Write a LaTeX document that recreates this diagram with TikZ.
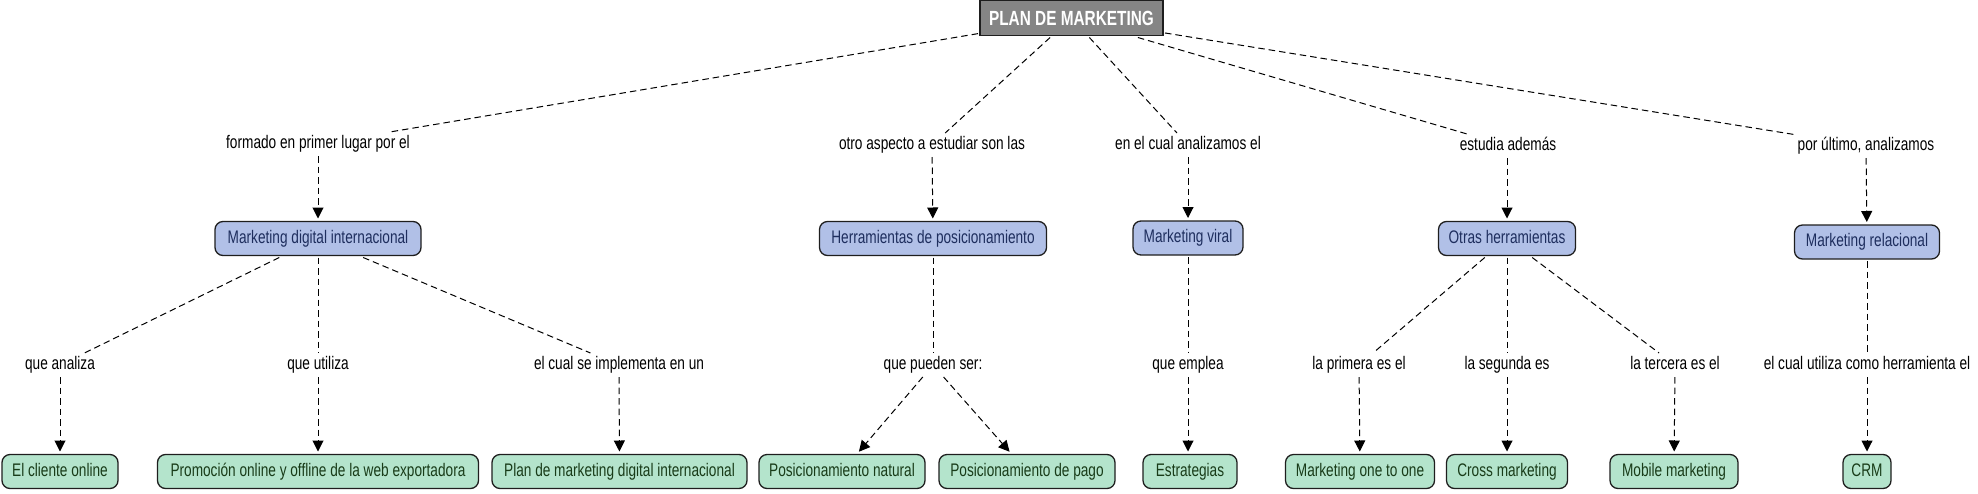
\documentclass[tikz,border=0pt]{standalone}
\usepackage{fontspec}
\setmainfont{Liberation Sans}[FakeStretch=0.75]
\usetikzlibrary{arrows.meta}
\definecolor{bluefill}{RGB}{177,192,231}
\definecolor{bluetext}{RGB}{30,46,94}
\definecolor{greenfill}{RGB}{180,228,204}
\definecolor{greentext}{RGB}{25,60,25}
\definecolor{rootfill}{RGB}{133,133,133}
\definecolor{edgecol}{RGB}{30,30,30}
\begin{document}
\begin{tikzpicture}[x=1pt,y=-1pt,
  txt/.style={font=\fontsize{18.2}{21}\selectfont},
  lbl/.style={txt, inner xsep=3pt, inner ysep=4pt, text height=12.5pt, text depth=3.5pt, outer sep=0pt},
  conc/.style={txt, draw=edgecol, line width=1.3pt, rounded corners=8pt, minimum height=34pt, inner sep=0pt, text height=12.5pt, text depth=3.5pt, outer sep=2pt},
  bconc/.style={conc, fill=bluefill, text=bluetext},
  gconc/.style={conc, fill=greenfill, text=greentext},
  link/.style={draw=black, line width=1pt, dash pattern=on 6.5pt off 4pt},
  arr/.style={link, -{Triangle[length=11pt,width=11pt]}, shorten >=1pt},
]
\useasboundingbox (0,0) rectangle (1978,493);

% root
\node[draw=edgecol, fill=rootfill, line width=1.3pt, minimum width=183pt, minimum height=35pt, inner sep=0pt, outer sep=2pt, text=white, font=\bfseries\fontsize{20.5}{23}\selectfont] (root) at (1071.5,18) {PLAN DE MARKETING};

% first level labels
\node[lbl] (l1) at (318,144) {formado en primer lugar por el};
\node[lbl] (l2) at (932,145) {otro aspecto a estudiar son las};
\node[lbl] (l3) at (1188,145) {en el cual analizamos el};
\node[lbl] (l4) at (1508,146) {estudia además};
\node[lbl] (l5) at (1866,146) {por último, analizamos};

% blue concepts
\node[bconc, minimum width=206pt] (b1) at (318,238.5) {Marketing digital internacional};
\node[bconc, minimum width=227pt] (b2) at (933,238.5) {Herramientas de posicionamiento};
\node[bconc, minimum width=110pt] (b3) at (1188,238) {Marketing viral};
\node[bconc, minimum width=137pt] (b4) at (1507,238.5) {Otras herramientas};
\node[bconc, minimum width=145pt] (b5) at (1867,242) {Marketing relacional};

% second level labels
\node[lbl] (m1) at (60,365) {que analiza};
\node[lbl] (m2) at (318,365) {que utiliza};
\node[lbl] (m3) at (619,365) {el cual se implementa en un};
\node[lbl] (m4) at (933,365) {que pueden ser:};
\node[lbl] (m5) at (1188,365) {que emplea};
\node[lbl] (m6) at (1359,365) {la primera es el};
\node[lbl] (m7) at (1507,365) {la segunda es};
\node[lbl] (m8) at (1675,365) {la tercera es el};
\node[lbl] (m9) at (1867,365) {el cual utiliza como herramienta el};

% green concepts
\node[gconc, minimum width=116pt] (g1) at (60,471.5) {El cliente online};
\node[gconc, minimum width=321pt] (g2) at (318,471.5) {Promoción online y offline de la web exportadora};
\node[gconc, minimum width=255pt] (g3) at (619.5,471.5) {Plan de marketing digital internacional};
\node[gconc, minimum width=166pt] (g4) at (842,471.5) {Posicionamiento natural};
\node[gconc, minimum width=176pt] (g5) at (1027,471.5) {Posicionamiento de pago};
\node[gconc, minimum width=94pt] (g6) at (1190,471.5) {Estrategias};
\node[gconc, minimum width=149pt] (g7) at (1360,471.5) {Marketing one to one};
\node[gconc, minimum width=121pt] (g8) at (1507,471.5) {Cross marketing};
\node[gconc, minimum width=128pt] (g9) at (1674,471.5) {Mobile marketing};
\node[gconc, minimum width=48pt] (g10) at (1867,471.5) {CRM};

% connectors root -> labels
\draw[link] (root) -- (l1);
\draw[link] (root) -- (l2);
\draw[link] (root) -- (l3);
\draw[link] (root) -- (l4);
\draw[link] (root) -- (l5);

% labels -> blue
\draw[arr] (l1) -- (b1);
\draw[arr] (l2) -- (b2);
\draw[arr] (l3) -- (b3);
\draw[arr] (l4.south -| b4) -- (b4);
\draw[arr] (l5) -- (b5);

% blue -> labels
\draw[link] (b1) -- (m1);
\draw[link] (b1) -- (m2);
\draw[link] (b1) -- (m3);
\draw[link] (b2) -- (m4);
\draw[link] (b3) -- (m5);
\draw[link] (b4) -- (m6);
\draw[link] (b4) -- (m7);
\draw[link] (b4) -- (m8);
\draw[link] (b5) -- (m9);

% labels -> green
\draw[arr] (m1) -- (g1);
\draw[arr] (m2) -- (g2);
\draw[arr] (m3) -- (g3);
\draw[arr] (m4) -- (g4);
\draw[arr] (m4) -- (g5);
\draw[arr] (m5) -- (g6.north -| m5);
\draw[arr] (m6) -- (g7);
\draw[arr] (m7) -- (g8);
\draw[arr] (m8) -- (g9);
\draw[arr] (m9) -- (g10);
\end{tikzpicture}
\end{document}
